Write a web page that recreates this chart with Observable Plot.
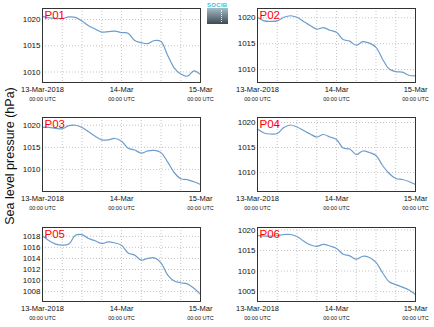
<!DOCTYPE html>
<html>
<head>
<meta charset="utf-8">
<script src="https://cdn.jsdelivr.net/npm/d3@7"></script>
<script src="https://cdn.jsdelivr.net/npm/@observablehq/plot@0.6"></script>
<style>
  html, body { margin: 0; padding: 0; background: #fff; }
  body { width: 434px; height: 327px; position: relative; overflow: hidden; font-family: "Liberation Sans", Arial, sans-serif; }
  .panel { position: absolute; }
  #ytitle { position: absolute; left: 10px; top: 156px; transform: translate(-50%, -50%) rotate(-90deg); white-space: nowrap; font-size: 12.5px; color: #111; }
  #logo { position: absolute; left: 207px; top: 2px; width: 22px; }
  #logo .t { font-size: 6px; line-height: 6px; color: #3fbfd6; letter-spacing: 0.3px; font-weight: bold; }
  #logo .r { width: 21px; height: 16px; background: linear-gradient(#a6bcc6, #3b4a53); position: relative; }
  #logo .r::after { content: ""; position: absolute; left: 14px; top: 2px; width: 1px; height: 12px; border-left: 1px dotted #e8f0f4; }
</style>
</head>
<body>
<div id="ytitle">Sea level pressure (hPa)</div>
<div id="logo"><div class="t">SOCIB</div><div class="r"></div></div>
<script>
// hours since 13-Mar-2018 00:00 UTC
const hours = [0,2,4,6,8,10,12,14,16,18,20,22,24,26,28,30,32,34,36,38,40,42,44,46,48];
const p01 = [1020.6,1020.3,1020.2,1020.2,1020.5,1020.4,1019.7,1018.8,1018.2,1017.6,1017.7,1017.8,1017.5,1017.4,1016.0,1015.6,1015.4,1016.0,1015.8,1013.2,1010.8,1009.6,1009.2,1010.2,1009.5];
const p02 = [1020.1,1019.4,1019.3,1019.4,1020.1,1020.4,1020.1,1019.3,1018.5,1017.8,1018.1,1017.6,1017.2,1015.8,1015.5,1014.7,1015.4,1015.1,1014.3,1012.0,1010.1,1009.6,1009.5,1008.9,1008.8];
const p03 = [1019.5,1019.5,1019.3,1019.2,1019.9,1020.0,1019.5,1018.5,1017.5,1016.7,1016.7,1017.0,1016.4,1014.8,1014.4,1013.7,1014.2,1014.3,1013.8,1011.7,1009.3,1007.9,1007.7,1007.2,1006.6];
const p04 = [1018.7,1017.9,1017.7,1017.8,1019.0,1019.5,1019.1,1018.4,1017.7,1017.1,1017.6,1017.1,1016.6,1014.9,1014.7,1013.6,1014.3,1014.0,1013.4,1011.4,1009.8,1008.8,1008.6,1008.2,1007.6];
const p05 = [1018.1,1017.2,1016.6,1016.4,1016.6,1018.2,1018.3,1017.6,1017.2,1016.7,1017.0,1016.8,1016.4,1015.0,1014.6,1013.7,1014.0,1014.1,1013.2,1011.0,1009.9,1009.6,1009.4,1008.6,1007.5];
const p06 = [1018.7,1018.5,1018.5,1018.6,1018.9,1018.9,1018.4,1017.3,1016.4,1016.0,1016.5,1016.1,1015.5,1014.1,1013.7,1012.9,1013.6,1013.3,1012.1,1009.6,1007.4,1006.7,1006.1,1005.4,1004.3];

const panelNames = ["P01","P02","P03","P04","P05","P06"];
const series = [p01,p02,p03,p04,p05,p06];
const yDomains = [[1008.0,1022.1],[1007.5,1021.8],[1005.0,1021.75],[1006.2,1021.0],[1006.2,1019.6],[1002.6,1020.6]];
const yTicks = [[1010,1015,1020],[1010,1015,1020],[1010,1015,1020],[1010,1015,1020],[1008,1010,1012,1014,1016,1018],[1005,1010,1015,1020]];
const xTickLabels = ["13-Mar-2018","14-Mar","15-Mar"];
const xTickSub = "00:00 UTC";

const t0 = Date.UTC(2018, 2, 13);
const toDate = h => new Date(t0 + h * 3600e3);
const xMajor = [0, 24, 48].map(toDate);
const xGrid = [6,12,18,24,30,36,42].map(toDate);

const slots = [[2,4],[217,4],[2,113],[217,113],[2,223],[217,223]];

panelNames.forEach((name, i) => {
  const data = hours.map((h, k) => ({t: toDate(h), p: series[i][k]}));
  const chart = Plot.plot({
    width: 216, height: 104,
    marginLeft: 40, marginRight: 18, marginTop: 4, marginBottom: 26,
    style: {background: "transparent", overflow: "visible", fontFamily: "'Liberation Sans', Arial, sans-serif", color: "#111"},
    x: {type: "utc", domain: [toDate(0), toDate(48)], label: null},
    y: {domain: yDomains[i], label: null},
    marks: [
      Plot.ruleX(xGrid, {stroke: "#c4c4c4", strokeDasharray: "1,2"}),
      Plot.ruleY(yTicks[i], {stroke: "#c4c4c4", strokeDasharray: "1,2"}),
      Plot.line(data, {x: "t", y: "p", stroke: "#6d9dcc", strokeWidth: 1.2, curve: "catmull-rom"}),
      Plot.frame({stroke: "#333"}),
      Plot.axisY(yTicks[i], {tickSize: 0, tickPadding: 2, fontSize: 8, label: null, tickFormat: d => String(d)}),
      Plot.axisX(xMajor, {tickSize: 0, tickPadding: 4, fontSize: 7.5, label: null, tickFormat: (d, k) => xTickLabels[k]}),
      Plot.axisX(xMajor, {tickSize: 0, tickPadding: 15, fontSize: 5.5, label: null, tickFormat: () => xTickSub}),
      Plot.text([name], {frameAnchor: "top-left", dx: 2, dy: 2, fill: "#ff0000", fontSize: 11.5, lineAnchor: "top"})
    ]
  });
  chart.classList.add("panel");
  chart.style.left = slots[i][0] + "px";
  chart.style.top = slots[i][1] + "px";
  document.body.appendChild(chart);
});
</script>
</body>
</html>
